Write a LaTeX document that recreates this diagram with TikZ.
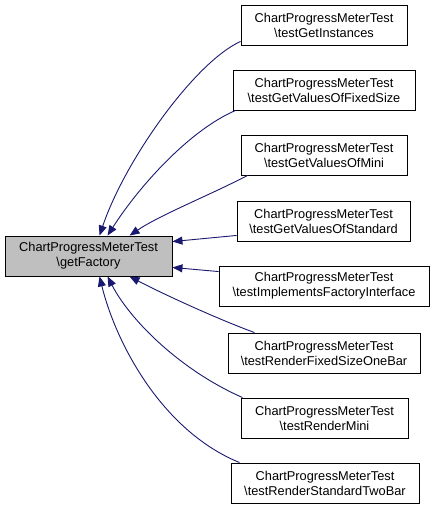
\documentclass[tikz,border=0pt]{standalone}
\usepackage{fontspec}
\setmainfont{Liberation Sans}
\usetikzlibrary{arrows.meta}
\definecolor{edgeblue}{HTML}{191970}
\definecolor{maingray}{HTML}{BFBFBF}
\begin{document}
\begin{tikzpicture}[x=1pt,y=-1pt,
  box/.style={draw=black,line width=0.9pt,fill=white,inner sep=0pt,align=center,
    font=\fontsize{12.8}{15}\selectfont,minimum height=40pt},
  edge/.style={draw=edgeblue,line width=0.9pt,-{Triangle[length=10pt,width=8pt]}}]
\useasboundingbox (0,0) rectangle (435,509);
\node[box,fill=maingray,minimum width=167pt] (main) at (88.5,256) {ChartProgressMeterTest\\\textbackslash getFactory};
\node[box,minimum width=166pt] (n1) at (324,25) {ChartProgressMeterTest\\\textbackslash testGetInstances};
\node[box,minimum width=182pt] (n2) at (324,90) {ChartProgressMeterTest\\\textbackslash testGetValuesOfFixedSize};
\node[box,minimum width=166pt] (n3) at (324,155) {ChartProgressMeterTest\\\textbackslash testGetValuesOfMini};
\node[box,minimum width=173pt] (n4) at (323.5,221) {ChartProgressMeterTest\\\textbackslash testGetValuesOfStandard};
\node[box,minimum width=210pt] (n5) at (324,286) {ChartProgressMeterTest\\\textbackslash testImplementsFactoryInterface};
\node[box,minimum width=192pt] (n6) at (324,353) {ChartProgressMeterTest\\\textbackslash testRenderFixedSizeOneBar};
\node[box,minimum width=167pt] (n7) at (324.5,418) {ChartProgressMeterTest\\\textbackslash testRenderMini};
\node[box,minimum width=188pt] (n8) at (325,483) {ChartProgressMeterTest\\\textbackslash testRenderStandardTwoBar};
% edges
\draw[edge] ([yshift=4pt]n1.south west) .. controls (195,62) and (125,160) .. ([xshift=95pt]main.north west);
\draw[edge] ([xshift=3pt]n2.south west) .. controls (190,130) and (140,185) .. ([xshift=103pt]main.north west);
\draw[edge] ([xshift=7pt]n3.south west) .. controls (210,195) and (160,215) .. ([xshift=125pt]main.north west);
\draw[edge] ([yshift=6pt]n4.south west) -- ([yshift=-6pt]main.north east);
\draw[edge] ([yshift=-6pt]n5.north west) -- ([yshift=9pt]main.south east);
\draw[edge] ([xshift=27pt]n6.north west) .. controls (220,320) and (165,295) .. ([xshift=125pt]main.south west);
\draw[edge] ([xshift=2pt]n7.north west) .. controls (180,370) and (130,320) .. ([xshift=103pt]main.south west);
\draw[edge] ([xshift=9pt]n8.north west) .. controls (160,430) and (115,340) .. ([xshift=95pt]main.south west);
\end{tikzpicture}
\end{document}
